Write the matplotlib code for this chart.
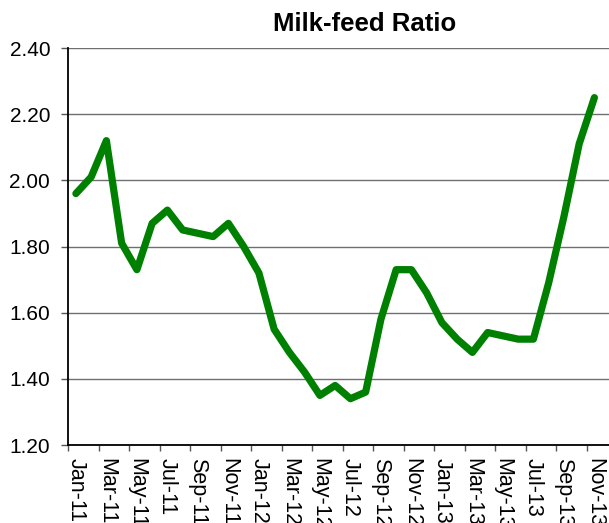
import matplotlib
matplotlib.use("Agg")
import matplotlib.pyplot as plt
import numpy as np

plt.rcParams['font.family'] = ['Liberation Sans', 'DejaVu Sans']

# monthly milk-feed price ratio, Jan 2011 - Nov 2013
months = ['Jan-11', 'Feb-11', 'Mar-11', 'Apr-11', 'May-11', 'Jun-11',
          'Jul-11', 'Aug-11', 'Sep-11', 'Oct-11', 'Nov-11', 'Dec-11',
          'Jan-12', 'Feb-12', 'Mar-12', 'Apr-12', 'May-12', 'Jun-12',
          'Jul-12', 'Aug-12', 'Sep-12', 'Oct-12', 'Nov-12', 'Dec-12',
          'Jan-13', 'Feb-13', 'Mar-13', 'Apr-13', 'May-13', 'Jun-13',
          'Jul-13', 'Aug-13', 'Sep-13', 'Oct-13', 'Nov-13']
ratio = [1.96, 2.01, 2.12, 1.81, 1.73, 1.87, 1.91, 1.85, 1.84, 1.83, 1.87, 1.80,
         1.72, 1.55, 1.48, 1.42, 1.35, 1.38, 1.34, 1.36, 1.58, 1.73, 1.73, 1.66,
         1.57, 1.52, 1.48, 1.54, 1.53, 1.52, 1.52, 1.69, 1.89, 2.11, 2.25]
n_slots = 36  # axis runs through Dec-13

fig = plt.figure(figsize=(6.09, 5.23), dpi=100)
ax = fig.add_axes([0.1121, 0.1491, 0.9015, 0.7591])

x = np.arange(len(ratio))
ax.plot(x, ratio, color='#008000', linewidth=5.2,
        solid_joinstyle='round', solid_capstyle='round', zorder=3)

ax.set_xlim(-0.5, n_slots - 0.5)
ax.set_ylim(1.20, 2.40)

yticks = np.arange(1.20, 2.401, 0.20)
ax.set_yticks(yticks)
ax.set_yticklabels([f'{v:.2f}' for v in yticks], fontsize=15)
ax.yaxis.grid(True, color='#6f6f6f', linewidth=1.0)
ax.set_axisbelow(True)

# tick marks sit between months, labels sit on every other month
ax.set_xticks(np.arange(-0.5, n_slots - 0.5, 2))
ax.set_xticklabels([])
ax.set_xticks(x[::2], minor=True)
ax.set_xticklabels(months[::2], minor=True, rotation=270, fontsize=15.5,
                   ha='center', va='top')
ax.tick_params(axis='x', which='minor', length=0, pad=9.5)
ax.tick_params(axis='x', which='major', direction='out', length=4.5,
               width=1.0, color='#555555')
ax.tick_params(axis='y', direction='out', length=5, width=1.0,
               color='#555555', pad=8)

for side in ['top', 'right']:
    ax.spines[side].set_visible(False)
for side in ['left', 'bottom']:
    ax.spines[side].set_color('black')
    ax.spines[side].set_linewidth(1.3)

fig.text(0.599, 0.955, 'Milk-feed Ratio', ha='center', va='center',
         fontsize=18.5, fontweight='bold')

fig.savefig('out.png', dpi=100)
